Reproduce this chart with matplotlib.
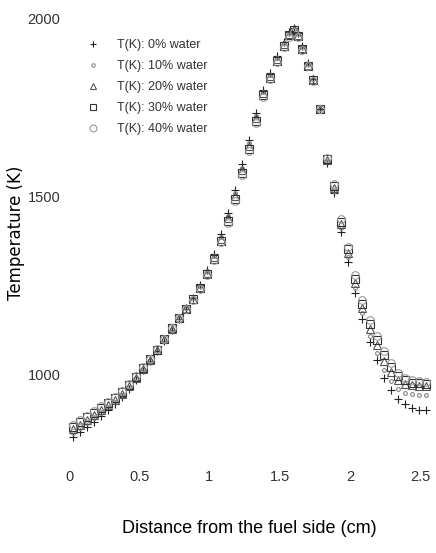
import matplotlib
matplotlib.use("Agg")
import matplotlib.pyplot as plt

plt.rcParams['font.family'] = ['Liberation Sans', 'DejaVu Sans']

# distance from the fuel side (cm)
dist = [0.03, 0.08, 0.13, 0.18, 0.23, 0.28, 0.33, 0.38, 0.43, 0.48,
        0.53, 0.58, 0.63, 0.68, 0.73, 0.78, 0.83, 0.88, 0.93, 0.98,
        1.03, 1.08, 1.13, 1.18, 1.23, 1.28, 1.33, 1.38, 1.43, 1.48,
        1.53, 1.57, 1.60, 1.63, 1.66, 1.70, 1.74, 1.79, 1.84, 1.89,
        1.94, 1.99, 2.04, 2.09, 2.14, 2.19, 2.24, 2.29, 2.34, 2.39,
        2.44, 2.49, 2.54]

T_0 = [822, 836, 850, 866, 882, 898, 915, 935, 958, 984,
       1010, 1036, 1064, 1094, 1124, 1155, 1184, 1214, 1250, 1292,
       1338, 1392, 1452, 1518, 1590, 1658, 1734, 1798, 1846, 1892,
       1932, 1960, 1972, 1958, 1922, 1874, 1830, 1745, 1592, 1508,
       1400, 1315, 1228, 1155, 1090, 1040, 990, 955, 930, 915,
       905, 900, 898]
T_10 = [835, 849, 862, 876, 891, 906, 922, 941, 963, 988,
        1013, 1039, 1066, 1096, 1126, 1157, 1185, 1213, 1247, 1288,
        1332, 1385, 1443, 1508, 1580, 1648, 1726, 1793, 1840, 1888,
        1929, 1957, 1970, 1955, 1918, 1870, 1829, 1745, 1596, 1515,
        1410, 1328, 1243, 1170, 1108, 1060, 1012, 980, 958, 948,
        944, 942, 941]
T_20 = [845, 858, 870, 884, 898, 912, 927, 945, 966, 990,
        1015, 1040, 1067, 1097, 1127, 1157, 1185, 1212, 1245, 1285,
        1328, 1380, 1437, 1500, 1572, 1640, 1718, 1788, 1836, 1884,
        1926, 1955, 1968, 1952, 1915, 1868, 1828, 1745, 1600, 1522,
        1420, 1340, 1257, 1186, 1126, 1082, 1036, 1006, 982, 972,
        968, 966, 965]
T_30 = [852, 866, 878, 891, 905, 918, 932, 949, 969, 993,
        1017, 1041, 1068, 1098, 1128, 1157, 1184, 1210, 1243, 1282,
        1324, 1375, 1431, 1493, 1565, 1633, 1711, 1783, 1832, 1880,
        1922, 1952, 1965, 1950, 1912, 1866, 1826, 1745, 1603, 1528,
        1428, 1350, 1268, 1198, 1140, 1096, 1052, 1020, 995, 982,
        976, 974, 973]
T_40 = [858, 871, 883, 896, 909, 922, 936, 952, 972, 995,
        1019, 1042, 1069, 1099, 1128, 1156, 1183, 1208, 1240, 1278,
        1320, 1370, 1425, 1486, 1558, 1626, 1704, 1778, 1828, 1876,
        1918, 1948, 1962, 1948, 1910, 1864, 1824, 1745, 1606, 1533,
        1435, 1358, 1277, 1208, 1152, 1108, 1064, 1030, 1004, 990,
        982, 979, 978]

series = [T_0, T_10, T_20, T_30, T_40]
names = ["T(K): 0% water", "T(K): 10% water", "T(K): 20% water",
         "T(K): 30% water", "T(K): 40% water"]
markers = ['+', '.', '^', 's', 'o']
colors = ['#222222', '#888888', '#555555', '#333333', '#999999']

fig = plt.figure(figsize=(4.36, 5.53), dpi=100)
ax = fig.add_axes([66/436, 98/553, 366/436, 445/553])

for i in range(len(series)):
    ax.plot(dist, series[i], linestyle='none', marker=markers[i], markersize=5.5,
            markerfacecolor='none', markeredgecolor=colors[i], markeredgewidth=0.8,
            label=names[i])

ax.set_xlim(-0.0214, 2.585)
ax.set_ylim(772.5, 2022.5)
ax.set_xticks([0, 0.5, 1, 1.5, 2, 2.5])
ax.set_xticklabels(["0", "0.5", "1", "1.5", "2", "2.5"])
ax.set_yticks([1000, 1500, 2000])
ax.tick_params(axis='both', length=0, labelsize=10.5, labelcolor='#333333')
ax.tick_params(axis='x', pad=11)
ax.tick_params(axis='y', pad=4)
for s in ax.spines.values():
    s.set_visible(False)

ax.set_xlabel("Distance from the fuel side (cm)", fontsize=13, labelpad=26)
ax.set_ylabel("Temperature (K)", fontsize=12, family=['DejaVu Sans'])
ax.yaxis.set_label_coords(-0.112, 0.5)

ax.legend(loc='upper left', bbox_to_anchor=(0.01, 0.96), frameon=False,
          fontsize=9, handletextpad=0.9, labelspacing=0.72, markerscale=0.9,
          labelcolor='#333333')

plt.savefig('out.png', dpi=100)
